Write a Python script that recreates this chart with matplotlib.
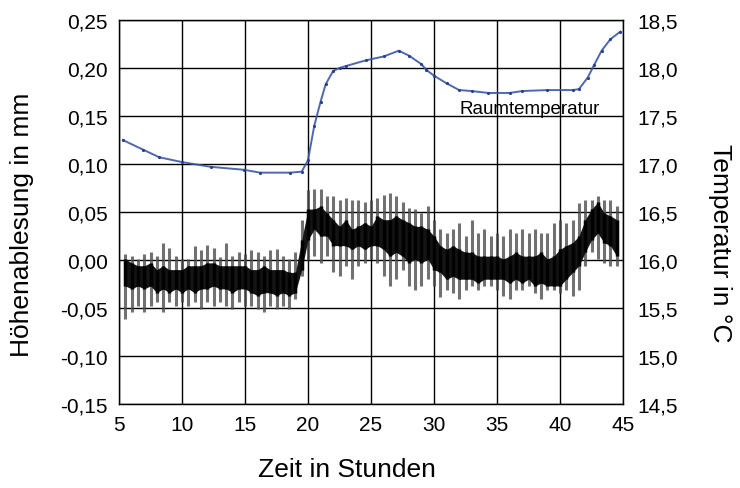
import numpy as np
import matplotlib
matplotlib.use("Agg")
import matplotlib.pyplot as plt

plt.rcParams["font.family"] = ["Liberation Sans", "DejaVu Sans"]

# Hoehenablesung (mm), read every half hour: core band and spike extents
hours = [5.5, 6, 6.5, 7, 7.5, 8, 8.5, 9, 9.5, 10, 10.5, 11, 11.5, 12, 12.5, 13, 13.5, 14,
         14.5, 15, 15.5, 16, 16.5, 17, 17.5, 18, 18.5, 19, 19.5, 20, 20.5, 21, 21.5, 22,
         22.5, 23, 23.5, 24, 24.5, 25, 25.5, 26, 26.5, 27, 27.5, 28, 28.5, 29, 29.5, 30,
         30.5, 31, 31.5, 32, 32.5, 33, 33.5, 34, 34.5, 35, 35.5, 36, 36.5, 37, 37.5, 38,
         38.5, 39, 39.5, 40, 40.5, 41, 41.5, 42, 42.5, 43, 43.5, 44, 44.5]
core_top = [0.001, -0.003, -0.006, -0.006, -0.003, -0.010, -0.006, -0.010, -0.010, -0.010,
            -0.006, -0.006, -0.006, -0.003, -0.003, -0.006, -0.006, -0.006, -0.006, -0.006,
            -0.010, -0.010, -0.006, -0.010, -0.010, -0.010, -0.013, -0.013, 0.021, 0.053,
            0.053, 0.056, 0.049, 0.042, 0.035, 0.042, 0.032, 0.035, 0.039, 0.035,
            0.046, 0.042, 0.042, 0.046, 0.042, 0.039, 0.035, 0.035, 0.032, 0.025,
            0.015, 0.011, 0.015, 0.011, 0.008, 0.008, 0.004, 0.004, 0.004, 0.004,
            0.001, 0.004, 0.008, 0.004, 0.004, 0.004, 0.008, 0.001, 0.004, 0.011,
            0.015, 0.018, 0.025, 0.042, 0.053, 0.060, 0.049, 0.046, 0.042]
core_bot = [-0.027, -0.030, -0.027, -0.030, -0.027, -0.034, -0.030, -0.034, -0.030, -0.034,
            -0.030, -0.034, -0.030, -0.030, -0.027, -0.030, -0.030, -0.034, -0.030, -0.030,
            -0.034, -0.037, -0.034, -0.034, -0.037, -0.034, -0.037, -0.034, -0.010, 0.021,
            0.032, 0.025, 0.025, 0.015, 0.015, 0.015, 0.011, 0.015, 0.011, 0.015,
            0.015, 0.011, 0.004, 0.008, 0.004, -0.003, 0.001, -0.003, 0.001, -0.010,
            -0.013, -0.020, -0.017, -0.020, -0.020, -0.020, -0.024, -0.020, -0.020, -0.020,
            -0.020, -0.024, -0.020, -0.024, -0.020, -0.027, -0.024, -0.027, -0.027, -0.027,
            -0.020, -0.013, -0.006, 0.008, 0.021, 0.028, 0.018, 0.015, 0.004]
spike_hi = [0.006, 0.004, 0.001, 0.006, 0.008, 0.004, 0.018, 0.013, 0.004, 0.001,
            0.001, 0.015, 0.010, 0.016, 0.013, 0.003, 0.018, 0.004, 0.008, 0.006,
            0.010, 0.008, 0.004, 0.010, 0.011, 0.004, 0.001, 0.008, 0.042, 0.073,
            0.074, 0.074, 0.067, 0.067, 0.063, 0.065, 0.063, 0.063, 0.060, 0.063,
            0.065, 0.068, 0.070, 0.067, 0.060, 0.054, 0.053, 0.049, 0.056, 0.042,
            0.032, 0.028, 0.032, 0.039, 0.025, 0.042, 0.028, 0.032, 0.025, 0.028,
            0.025, 0.032, 0.028, 0.032, 0.028, 0.032, 0.028, 0.028, 0.039, 0.042,
            0.039, 0.042, 0.059, 0.063, 0.063, 0.067, 0.063, 0.063, 0.056]
spike_lo = [-0.061, -0.054, -0.048, -0.054, -0.048, -0.044, -0.054, -0.044, -0.048, -0.044,
            -0.048, -0.044, -0.051, -0.044, -0.048, -0.044, -0.048, -0.051, -0.044, -0.048,
            -0.048, -0.051, -0.054, -0.048, -0.051, -0.048, -0.051, -0.041, -0.017, 0.000,
            0.004, -0.003, 0.004, -0.013, -0.017, -0.006, -0.020, -0.006, -0.003, 0.001,
            -0.003, -0.017, -0.027, -0.020, -0.010, -0.027, -0.031, -0.027, -0.020, -0.027,
            -0.039, -0.031, -0.034, -0.041, -0.031, -0.027, -0.031, -0.027, -0.027, -0.031,
            -0.038, -0.041, -0.031, -0.031, -0.027, -0.034, -0.041, -0.031, -0.031, -0.034,
            -0.031, -0.038, -0.031, -0.006, 0.008, 0.001, -0.003, -0.006, -0.006]

# Raumtemperatur (C)
hours_t = [5.3, 6.9, 8.2, 10, 12.3, 14.9, 16.2, 18.6, 19.5, 20, 20.5, 21, 21.4, 22, 22.5,
           23, 24.6, 26, 27.2, 28, 29, 29.4, 30, 31, 32, 33, 34.3, 36, 37, 39, 41, 41.5,
           42.2, 42.7, 43.3, 44, 44.8]
temp = [17.25, 17.15, 17.07, 17.02, 16.97, 16.94, 16.91, 16.91, 16.92, 17.04, 17.40, 17.65,
        17.83, 17.97, 18.00, 18.02, 18.08, 18.12, 18.18, 18.13, 18.04, 17.98, 17.92, 17.84,
        17.77, 17.76, 17.74, 17.74, 17.76, 17.77, 17.77, 17.78, 17.90, 18.03, 18.18, 18.30,
        18.38]

x_ticks = [5, 10, 15, 20, 25, 30, 35, 40, 45]
y_ticks = [-0.15, -0.10, -0.05, 0.00, 0.05, 0.10, 0.15, 0.20, 0.25]
y_labels = ["-0,15", "-0,10", "-0,05", "0,00", "0,05", "0,10", "0,15", "0,20", "0,25"]
t_ticks = [14.5, 15.0, 15.5, 16.0, 16.5, 17.0, 17.5, 18.0, 18.5]
t_labels = ["14,5", "15,0", "15,5", "16,0", "16,5", "17,0", "17,5", "18,0", "18,5"]

fig = plt.figure(figsize=(7.4, 4.89), dpi=100)
ax = fig.add_axes([119 / 740, 1 - 405 / 489, 504 / 740, 384 / 489])

h = np.array(hours)
ax.vlines(h, spike_lo, spike_hi, color="0.3", lw=2.2, alpha=0.8, zorder=3)
ax.fill_between(h, core_bot, core_top, color="#141414", lw=0, zorder=4)
ax.vlines(h, core_bot, core_top, color="black", lw=2.5, zorder=4)

ax.set_xlim(5, 45)
ax.set_ylim(-0.15, 0.25)
ax.set_xticks(x_ticks)
ax.set_yticks(y_ticks)
ax.set_yticklabels(y_labels)
ax.grid(True, color="black", lw=1)
ax.set_axisbelow(True)
ax.tick_params(length=0, labelsize=15, pad=8)
for s in ax.spines.values():
    s.set_color("#222222")
    s.set_linewidth(1)

ax2 = ax.twinx()
ax2.plot(hours_t, temp, color="#3a58a6", lw=1.4, alpha=0.9, zorder=5)
ax2.plot(hours_t, temp, ".", color="#2a3f8f", ms=2.5, zorder=6)
ax2.set_ylim(14.5, 18.5)
ax2.set_yticks(t_ticks)
ax2.set_yticklabels(t_labels)
ax2.tick_params(length=0, labelsize=15, pad=10)
ax2.text(32.0, 17.58, "Raumtemperatur", fontsize=13.5, va="center", ha="left")

fig.text(22 / 740, 1 - 225 / 489, "Höhenablesung in mm", rotation=90,
         ha="center", va="center", fontsize=19)
fig.text(720 / 740, 1 - 243 / 489, "Temperatur in °C", rotation=270,
         ha="center", va="center", fontsize=19)
fig.text(347 / 740, 1 - 470 / 489, "Zeit in Stunden", ha="center", va="center", fontsize=19)

fig.savefig("out.png", dpi=100)
